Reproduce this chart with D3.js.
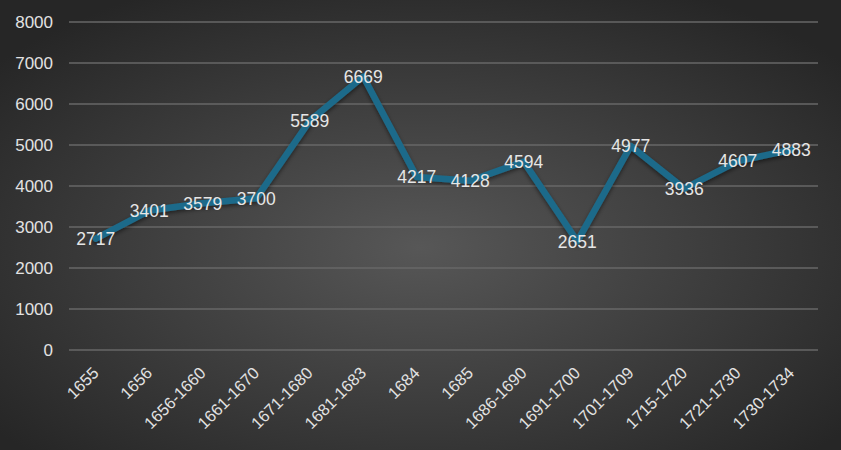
<!DOCTYPE html>
<html><head><meta charset="utf-8">
<script src="https://cdn.jsdelivr.net/npm/d3@7/dist/d3.min.js"></script>
<style>body{margin:0;background:#333}svg{display:block}</style>
</head><body>
<svg id="c" width="841" height="450"></svg>
<script>
const categories = ["1655","1656","1656-1660","1661-1670","1671-1680","1681-1683","1684","1685","1686-1690","1691-1700","1701-1709","1715-1720","1721-1730","1730-1734"];
const values = [2717,3401,3579,3700,5589,6669,4217,4128,4594,2651,4977,3936,4607,4883];
const yTicks = [0,1000,2000,3000,4000,5000,6000,7000,8000];

const W = 841, H = 450;
const svg = d3.select("#c");
const defs = svg.append("defs");
const rg = defs.append("radialGradient").attr("id","bg").attr("cx","50%").attr("cy","55%").attr("r","65%");
rg.append("stop").attr("offset","0%").attr("stop-color","#575757");
rg.append("stop").attr("offset","100%").attr("stop-color","#262626");
const f = defs.append("filter").attr("id","sh").attr("x","-10%").attr("y","-10%").attr("width","120%").attr("height","120%");
f.append("feDropShadow").attr("dx",0).attr("dy",2).attr("stdDeviation",2).attr("flood-color","#000").attr("flood-opacity",0.5);
svg.append("rect").attr("width",W).attr("height",H).attr("fill","url(#bg)");

const m = {l:69, r:23};
const x = d3.scaleBand().domain(categories).range([m.l, W - m.r]);
const y = d3.scaleLinear().domain([0,8000]).range([350, 22]);

const font = "'Liberation Sans', Arial, sans-serif";

// grid
svg.append("g").selectAll("line").data(yTicks).join("line")
  .attr("x1", m.l).attr("x2", W - m.r)
  .attr("y1", d => y(d)).attr("y2", d => y(d))
  .attr("stroke", "#676767").attr("stroke-width", 1.3);

// y axis labels
const ya = svg.append("g").attr("transform", `translate(${m.l},0)`)
  .call(d3.axisLeft(y).tickValues(yTicks).tickSize(0).tickPadding(16).tickFormat(d3.format("d")));
ya.select(".domain").remove();
ya.selectAll("text").attr("fill","#e2e2e2").style("font-family",font).style("font-size","17px");

// x axis labels
const xa = svg.append("g").attr("transform", `translate(0,350)`)
  .call(d3.axisBottom(x).tickSize(0).tickFormat(d => d));
xa.select(".domain").remove();
xa.selectAll("text")
  .attr("fill","#e2e2e2").style("font-family",font).style("font-size","16.5px")
  .attr("text-anchor","end").attr("dy","0.35em").attr("y",0)
  .attr("transform","translate(0,20) rotate(-45)");

// line
const cx = d => x(d) + x.bandwidth()/2;
const line = d3.line().x((d,i) => cx(categories[i])).y(d => y(d));
svg.append("path").datum(values).attr("d", line)
  .attr("fill","none").attr("stroke","#1d6b8a").attr("stroke-width",6.5)
  .attr("stroke-linejoin","round").attr("stroke-linecap","round")
  .attr("filter","url(#sh)");

// data labels
svg.append("g").selectAll("text").data(values).join("text")
  .attr("x", (d,i) => cx(categories[i]))
  .attr("y", d => y(d))
  .attr("dy","0.36em")
  .attr("text-anchor","middle")
  .attr("fill","#e6e6e6").style("font-family",font).style("font-size","17.5px")
  .text(d => d);
</script>
</body></html>
